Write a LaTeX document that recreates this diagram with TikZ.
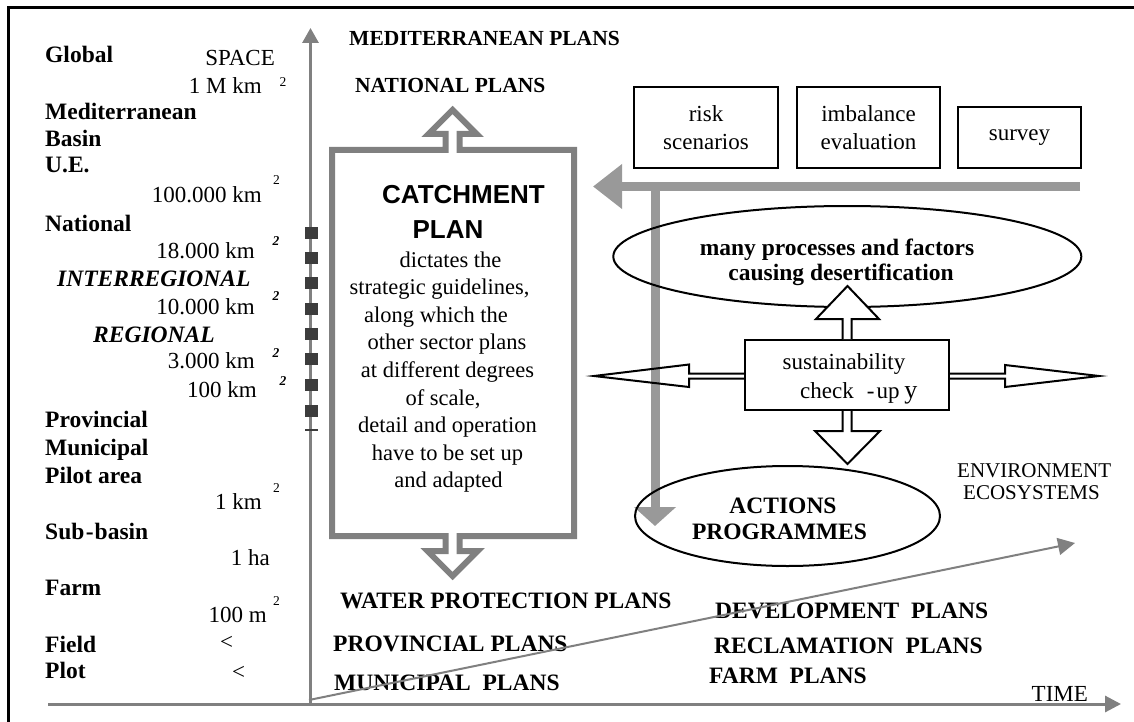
\documentclass[tikz,border=0pt]{standalone}
\usepackage{fontspec}
\setmainfont{Liberation Serif}
\newfontfamily\arialfont{Liberation Sans}
\usetikzlibrary{arrows.meta,shapes.geometric}
\definecolor{framegray}{RGB}{128,128,128}
\definecolor{bandgray}{RGB}{153,153,153}
\definecolor{sqgray}{RGB}{60,60,60}
\tikzset{
  lefttxt/.style={font=\fontsize{23.5}{28}\selectfont\bfseries, anchor=base west, inner sep=0pt},
  leftit/.style={font=\fontsize{23.5}{28}\selectfont\bfseries\itshape, anchor=base west, inner sep=0pt},
  numtxt/.style={font=\fontsize{23}{28}\selectfont, anchor=base east, inner sep=0pt},
  suptxt/.style={font=\fontsize{13.5}{14}\selectfont, anchor=base, inner sep=0pt},
  supbitxt/.style={font=\fontsize{13.5}{14}\selectfont\bfseries\itshape, anchor=base, inner sep=0pt},
  plantxt/.style={font=\fontsize{23.5}{28}\selectfont\bfseries, anchor=base west, inner sep=0pt},
  topplan/.style={font=\fontsize{21.5}{26}\selectfont\bfseries, anchor=base west, inner sep=0pt},
  bodytxt/.style={font=\fontsize{22.5}{27}\selectfont, anchor=base, inner sep=0pt},
  boldc/.style={font=\fontsize{23.5}{28}\selectfont\bfseries, anchor=base, inner sep=0pt},
  regc/.style={font=\fontsize{23}{28}\selectfont, anchor=base, inner sep=0pt},
  envtxt/.style={font=\fontsize{21}{24}\selectfont, anchor=base west, inner sep=0pt},
  txtbox/.style={draw, line width=2pt, inner sep=0pt, align=center, font=\fontsize{23}{28}\selectfont},
  oval/.style={draw, ellipse, line width=2pt, inner sep=0pt},
  blockarr/.style={draw=black, line width=2pt, line join=miter},
  axisline/.style={draw=framegray, line width=3pt},
  bandarr/.style={draw=bandgray, line width=9pt},
  catchframe/.style={draw=framegray, line width=6pt, line join=miter, fill=white},
}
\begin{document}
\begin{tikzpicture}[x=1pt,y=-1pt]
\useasboundingbox (0,0) rectangle (1134,722);
\fill[white] (0,0) rectangle (1134,722);
% outer frame (left and top visible)
\draw[line width=2.5pt] (8.3,722) -- (8.3,7.3) -- (1134,7.3);

% ---------- catchment plan frame with up/down block arrows
\draw[catchframe] (332,150) -- (445.5,150) -- (445.5,134) -- (428.5,134) -- (452.5,110)
  -- (476.5,134) -- (459.5,134) -- (459.5,150) -- (574,150) -- (574,536)
  -- (459.5,536) -- (459.5,551) -- (477.5,551) -- (452.5,576) -- (427.5,551)
  -- (445.5,551) -- (445.5,536) -- (332,536) -- cycle;
\node[font=\arialfont\bfseries\fontsize{26}{30}\selectfont, anchor=base, inner sep=0pt] (catch) at (463.5,204) {CATCHMENT};
\node[font=\arialfont\bfseries\fontsize{26}{30}\selectfont, anchor=base, inner sep=0pt] (plan) at (448,238) {PLAN};
\node[bodytxt] (b1) at (450.5,267) {dictates the};
\node[bodytxt] (b2) at (439.5,294.6) {strategic guidelines,};
\node[bodytxt] (b3) at (436,322.2) {along which the};
\node[bodytxt] (b4) at (447,349.8) {other sector plans};
\node[bodytxt] (b5) at (447.5,377.4) {at different degrees};
\node[bodytxt] (b6) at (443,405) {of scale,};
\node[bodytxt] (b7) at (447.5,432.6) {detail and operation};
\node[bodytxt] (b8) at (447.5,460.2) {have to be set up};
\node[bodytxt] (b9) at (448.5,487.8) {and adapted};

% ---------- plan labels
\node[topplan] (medp) at (349,46) {MEDITERRANEAN PLANS};
\node[topplan] (natp) at (355,93) {NATIONAL PLANS};
\node[plantxt] (watp) at (340,608) {WATER PROTECTION PLANS};
\node[plantxt] (provp) at (333,651) {PROVINCIAL PLANS};
\node[plantxt] (munp) at (334,690) {MUNICIPAL\ \ PLANS};
\node[plantxt] (devp) at (715,618) {DEVELOPMENT\ \ PLANS};
\node[plantxt] (recp) at (714,653) {RECLAMATION\ \ PLANS};
\node[plantxt] (farmp) at (709,683) {FARM\ \ PLANS};

% ---------- left scale column
\node[lefttxt] (lglob) at (45,63) {Global};
\node[lefttxt] (lmed) at (45,120) {Mediterranean};
\node[lefttxt] (lbas) at (45,147) {Basin};
\node[lefttxt] (lue) at (45,172) {U.E.};
\node[lefttxt] (lnat) at (45,231) {National};
\node[leftit] (linter) at (57,286) {INTERREGIONAL};
\node[leftit] (lreg) at (93,342) {REGIONAL};
\node[lefttxt] (lprov) at (45,427) {Provincial};
\node[lefttxt] (lmun) at (45,455) {Municipal};
\node[lefttxt] (lpil) at (45,483) {Pilot area};
\node[lefttxt] (lsub) at (45,539) {Sub\kern1.5pt-\kern1pt basin};
\node[lefttxt] (lfarm) at (45,595) {Farm};
\node[lefttxt] (lfield) at (45,652) {Field};
\node[lefttxt] (lplot) at (45,678) {Plot};

\node[numtxt] (space) at (275,66) {SPACE};
\node[numtxt] (n1) at (262,94) {1 M km};
\node[suptxt] (s1) at (283,87) {2};
\node[numtxt] (n2) at (262,202) {100.000 km};
\node[suptxt] (s2) at (276.5,185) {2};
\node[numtxt] (n3) at (255,258) {18.000 km};
\node[supbitxt] (s3) at (276,245) {2};
\node[numtxt] (n4) at (255,314) {10.000 km};
\node[supbitxt] (s4) at (276,300) {2};
\node[numtxt] (n5) at (255,368) {3.000 km};
\node[supbitxt] (s5) at (276,357) {2};
\node[numtxt] (n6) at (257,397) {100 km};
\node[supbitxt] (s6) at (283,385) {2};
\node[numtxt] (n7) at (262,509) {1 km};
\node[suptxt] (s7) at (276.5,492) {2};
\node[numtxt] (n8) at (270,565) {1 ha};
\node[numtxt] (n9) at (267,622) {100 m};
\node[suptxt] (s9) at (276.5,605) {2};
\node[font=\fontsize{23}{28}\selectfont, inner sep=0pt] (lt1) at (226.5,643) {<};
\node[font=\fontsize{23}{28}\selectfont, inner sep=0pt] (lt2) at (238.5,673) {<};

% ---------- axes
\coordinate (yaxB) at (310.5,705);
\coordinate (yaxT) at (310.5,28);
\coordinate (xaxL) at (48,704);
\coordinate (xaxR) at (1121,704);
\coordinate (dgA) at (309,700);
\coordinate (dgB) at (1075,543);
\draw[axisline, -{Triangle[length=15pt,width=16pt]}, color=framegray] (yaxB) -- (yaxT);
\draw[axisline, -{Triangle[length=16pt,width=16pt]}, color=framegray] (xaxL) -- (xaxR);
\foreach \yy in {232.5,258,282.5,309,334,359,385,411} {
  \fill[sqgray] (305,\yy-6) rectangle (318,\yy+6);
}
\draw[line width=1.5pt, sqgray] (305,430) -- (318,430);

% ---------- right side
\node[txtbox, minimum width=144pt, minimum height=81pt] (risk) at (706,127.5) {risk\\scenarios};
\node[txtbox, minimum width=143pt, minimum height=81pt] (imb) at (868.5,127.5) {imbalance\\evaluation};
\node[txtbox, minimum width=123pt, minimum height=61pt] (surv) at (1019.5,137.5) {survey};

\coordinate (bandR) at (1080,186.5);
\coordinate (bandL) at (593,186.5);
\coordinate (bandJ) at (655,186.5);
\coordinate (bandB) at (655,526);
\draw[bandarr, -{Triangle[length=29pt,width=43pt]}] (bandR) -- (bandL);
\draw[bandarr, -{Triangle[length=19pt,width=41pt]}] (bandJ) -- (bandB);

\node[oval, minimum width=468pt, minimum height=101pt] (e1) at (847.3,256.5) {};
\node[boldc] (e1a) at (837,255) {many processes and factors};
\node[boldc] (e1b) at (841,280) {causing desertification};

\node[oval, minimum width=305pt, minimum height=100pt] (e2) at (787.5,516) {};
\node[boldc] (e2a) at (783,513) {ACTIONS};
\node[boldc] (e2b) at (779.5,539) {PROGRAMMES};

\node[draw, line width=2pt, minimum width=204pt, minimum height=70pt, inner sep=0pt] (sust) at (847,375) {};
\node[regc] (st1) at (844,369) {sustainability};
\node[regc, anchor=base west] (st2) at (800,398) {check\hspace{13pt}-\hspace{2pt}up\hspace{5pt}{\fontsize{26}{28}\selectfont y}};

% block arrows from the sustainability box
\draw[blockarr, fill=white] (sust.north -| 842.5,0) -- (842.5,319) -- (816,319) -- (847.5,286)
  -- (879,319) -- (851.5,319) -- (sust.north -| 851.5,0);
\draw[blockarr, fill=white] (sust.south -| 842.5,0) -- (842.5,431) -- (815,431) -- (847.5,464)
  -- (880,431) -- (851.5,431) -- (sust.south -| 851.5,0);
\draw[blockarr] (sust.west |- 0,373.5) -- (689,373.5) -- (689,364.5) -- (594,376)
  -- (689,387) -- (689,378.5) -- (sust.west |- 0,378.5);
\draw[blockarr] (sust.east |- 0,373.5) -- (1005,373.5) -- (1005,365) -- (1099,376)
  -- (1005,387) -- (1005,378.5) -- (sust.east |- 0,378.5);

\node[envtxt] (env) at (957,477) {ENVIRONMENT};
\node[envtxt] (eco) at (963,499) {ECOSYSTEMS};
\node[regc, anchor=base west] (time) at (1031.5,701) {TIME};

% diagonal environment arrow (over the texts)
\draw[draw=framegray, line width=2pt, -{Triangle[length=17pt,width=17pt]}] (dgA) -- (dgB);
\end{tikzpicture}
\end{document}
